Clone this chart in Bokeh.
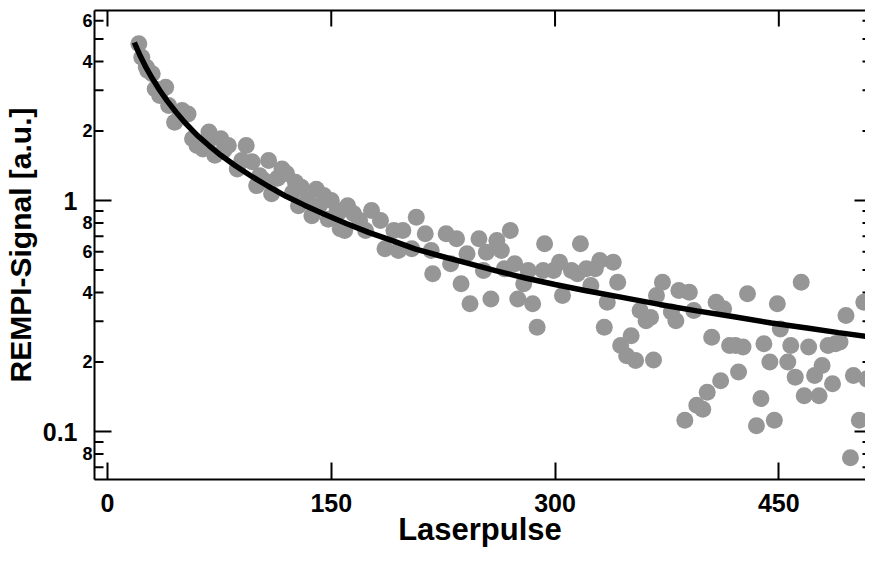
import math
from bokeh.plotting import figure
from bokeh.models import Range1d, LinearAxis, LogAxis, FixedTicker
from bokeh.embed import file_html
from bokeh.resources import INLINE

# ---- data ----
pulse = [21, 23, 26, 27, 30, 32, 35, 39, 41, 45, 49, 50, 54, 57, 60, 64, 67, 68, 72, 76,
         78, 81, 87, 90, 93, 97, 100, 102, 105, 108, 110, 114, 117, 120, 124, 126, 128, 130, 134, 137,
         140, 142, 145, 148, 150, 154, 155, 156, 159, 161, 165, 169, 173, 177, 183, 186, 192, 195, 198, 204,
         207, 213, 217, 218, 227, 230, 234, 237, 241, 243, 249, 252, 254, 257, 261, 264, 266, 270, 273, 275,
         279, 282, 285, 288, 292, 293, 299, 303, 305, 311, 315, 317, 321, 324, 327, 330, 333, 335, 339, 342,
         344, 348, 351, 354, 357, 361, 364, 366, 368, 372, 378, 381, 383, 387, 390, 393, 395, 399, 402, 405,
         408, 411, 413, 417, 421, 423, 426, 429, 435, 438, 440, 444, 447, 449, 451, 456, 458, 461, 465, 467,
         470, 474, 477, 479, 483, 486, 488, 491, 495, 498, 500, 504, 507, 509]
signal = [4.77, 4.17, 3.78, 3.65, 3.54, 3.04, 2.85, 3.09, 2.58, 2.18, 2.38, 2.45, 2.37, 1.85, 1.73, 1.67, 1.77, 1.98, 1.57, 1.85,
          1.65, 1.73, 1.37, 1.49, 1.73, 1.47, 1.16, 1.28, 1.22, 1.49, 1.07, 1.25, 1.37, 1.31, 1.08, 1.20, 0.95, 1.14, 1.00, 0.86,
          1.12, 0.95, 1.05, 0.83, 1.00, 0.905, 0.89, 0.754, 0.742, 0.95, 0.876, 0.819, 0.742, 0.905, 0.819, 0.618, 0.742, 0.608, 0.742, 0.618,
          0.847, 0.718, 0.608, 0.482, 0.718, 0.532, 0.683, 0.436, 0.588, 0.357, 0.683, 0.498, 0.597, 0.375, 0.671, 0.608, 0.506, 0.742, 0.532, 0.375,
          0.436, 0.498, 0.357, 0.283, 0.498, 0.650, 0.498, 0.541, 0.388, 0.498, 0.482, 0.650, 0.506, 0.429, 0.506, 0.550, 0.283, 0.363, 0.541, 0.443,
          0.236, 0.213, 0.260, 0.203, 0.334, 0.302, 0.312, 0.204, 0.388, 0.443, 0.329, 0.302, 0.408, 0.112, 0.401, 0.334, 0.130, 0.125, 0.148, 0.256,
          0.363, 0.166, 0.340, 0.236, 0.236, 0.181, 0.232, 0.395, 0.106, 0.139, 0.240, 0.200, 0.112, 0.357, 0.278, 0.200, 0.236, 0.172, 0.443, 0.143,
          0.232, 0.175, 0.143, 0.193, 0.236, 0.161, 0.240, 0.244, 0.318, 0.077, 0.175, 0.112, 0.363, 0.169]

fit_x = [18, 22, 26, 30, 35, 40, 46, 52, 60, 68, 76, 86, 96, 108, 120, 132, 145, 160, 175, 190,
         206, 222, 240, 260, 280, 300, 320, 345, 370, 395, 420, 445, 470, 490, 509]
fit_y = [4.83, 4.22, 3.75, 3.38, 3.00, 2.70, 2.41, 2.17, 1.92, 1.73, 1.57, 1.41, 1.28, 1.15, 1.04, 0.955, 0.875, 0.795, 0.728, 0.674,
         0.618, 0.578, 0.538, 0.497, 0.462, 0.433, 0.408, 0.381, 0.355, 0.333, 0.314, 0.295, 0.280, 0.268, 0.258]

x_ticks = [0, 150, 300, 450]
y_major_ticks = [0.1, 1]
y_major_labels = ["0.1", "1"]
y_minor_ticks = [0.07, 0.08, 0.09, 0.2, 0.3, 0.4, 0.5, 0.6, 0.7, 0.8, 0.9, 2, 3, 4, 5, 6]
y_minor_label_ticks = [0.08, 0.2, 0.4, 0.6, 0.8, 2, 4, 6]
y_minor_labels = ["8", "2", "4", "6", "8", "2", "4", "6"]

x_lo, x_hi = -8.7, 508.1
y_lo, y_hi = 0.062, 6.645

FONT = "Liberation Sans"

p = figure(width=865, height=549, y_axis_type="log",
           x_range=Range1d(x_lo, x_hi), y_range=Range1d(y_lo, y_hi),
           output_backend="svg", toolbar_location=None,
           min_border_left=92, min_border_right=0, min_border_top=10, min_border_bottom=70)
p.outline_line_color = None
p.grid.visible = False
p.background_fill_color = "white"
p.border_fill_color = "white"

# bottom axis
xa = p.xaxis[0]
xa.ticker = FixedTicker(ticks=x_ticks)
xa.axis_line_width = 2
xa.major_tick_line_width = 2
xa.major_tick_in = 17
xa.major_tick_out = 0
xa.minor_tick_in = 0
xa.minor_tick_out = 0
xa.major_label_text_font = FONT
xa.major_label_text_font_style = "bold"
xa.major_label_text_font_size = "25px"
xa.major_label_text_color = "black"
xa.major_label_standoff = 14
xa.axis_label = "Laserpulse"
xa.axis_label_text_font = FONT
xa.axis_label_text_font_style = "bold"
xa.axis_label_text_font_size = "31px"
xa.axis_label_text_color = "black"
xa.axis_label_standoff = -3

# left side: inner axis (frame line + small labels 2,4,6,8), outer axis (0.1, 1 + title)
inner = LogAxis(ticker=FixedTicker(ticks=y_minor_label_ticks, minor_ticks=[]),
                major_label_overrides=dict(zip(y_minor_label_ticks, y_minor_labels)),
                axis_line_width=2, major_tick_in=0, major_tick_out=0, minor_tick_in=0, minor_tick_out=0,
                major_label_standoff=2, major_label_text_font=FONT, major_label_text_font_style="bold",
                major_label_text_font_size="18px", major_label_text_color="black")

ya = p.yaxis[0]
ya.ticker = FixedTicker(ticks=y_major_ticks, minor_ticks=[])
ya.major_label_overrides = dict(zip(y_major_ticks, y_major_labels))
ya.axis_line_color = None
ya.major_tick_in = 0
ya.major_tick_out = 0
ya.minor_tick_in = 0
ya.minor_tick_out = 0
ya.major_label_text_font = FONT
ya.major_label_text_font_style = "bold"
ya.major_label_text_font_size = "25px"
ya.major_label_text_color = "black"
ya.major_label_standoff = 2
ya.axis_label = "REMPI-Signal [a.u.]"
ya.axis_label_text_font = FONT
ya.axis_label_text_font_style = "bold"
ya.axis_label_text_font_size = "30px"
ya.axis_label_text_color = "black"
ya.axis_label_standoff = 3

p.left = [inner, ya]

# top frame line
top = LinearAxis(ticker=FixedTicker(ticks=[]), axis_line_width=2,
                 major_tick_in=0, major_tick_out=0, minor_tick_in=0, minor_tick_out=0,
                 major_label_standoff=0)
p.add_layout(top, "above")

# inward ticks on the left edge
p.ray(x=[x_lo] * len(y_major_ticks), y=y_major_ticks, length=17, length_units="screen",
      angle=0, line_color="black", line_width=2)
p.ray(x=[x_lo] * len(y_minor_ticks), y=y_minor_ticks, length=9, length_units="screen",
      angle=0, line_color="black", line_width=2)
# mirrored ticks: top (pointing down) and right edge (pointing left)
p.ray(x=x_ticks, y=[y_hi] * len(x_ticks), length=16, length_units="screen",
      angle=-math.pi / 2, line_color="black", line_width=2)
p.ray(x=[x_hi] * len(y_major_ticks), y=y_major_ticks, length=11, length_units="screen",
      angle=math.pi, line_color="black", line_width=2)
p.ray(x=[x_hi] * len(y_minor_ticks), y=y_minor_ticks, length=3, length_units="screen",
      angle=math.pi, line_color="black", line_width=2)

p.scatter(pulse, signal, size=17, fill_color="#969696", line_color=None)
p.line(fit_x, fit_y, line_width=5.5, line_color="black")

open("out.html", "w").write(file_html(p, INLINE))
